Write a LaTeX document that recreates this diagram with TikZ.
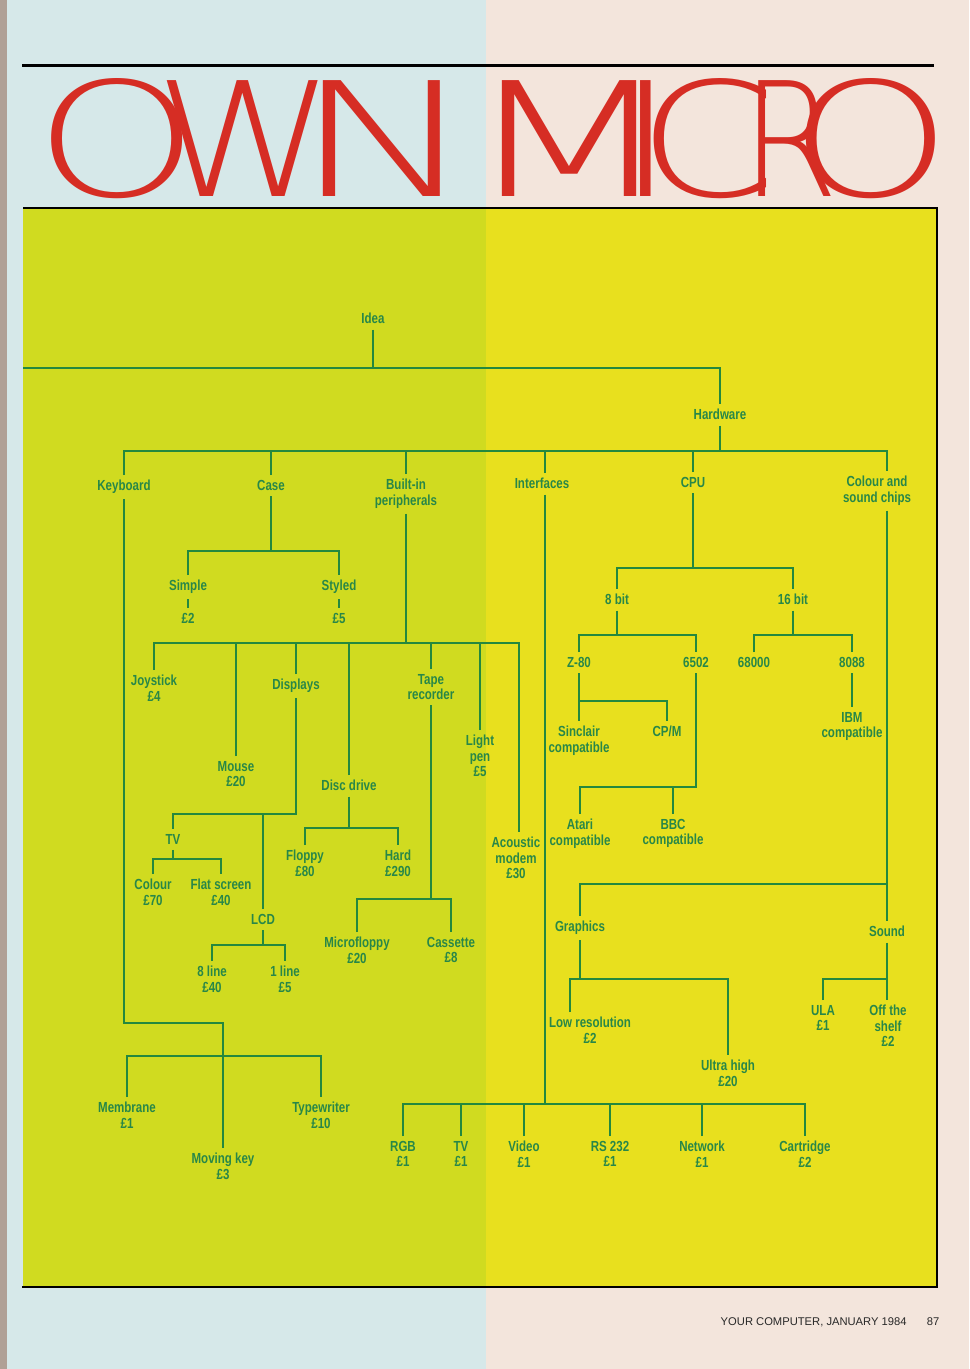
\documentclass[tikz,border=0pt]{standalone}
\usepackage{fontspec}
\usepackage{graphicx}
\newfontfamily\lblfont{Liberation Sans}[FakeStretch=0.79]
\newfontfamily\titlefont{DejaVuSans-ExtraLight.ttf}
\newfontfamily\footfont{Liberation Sans}
\newcommand\tlet[2]{\makebox[0pt]{\scalebox{#1}[1]{#2}}}
\definecolor{bgblue}{RGB}{214,232,233}
\definecolor{bgpink}{RGB}{243,229,220}
\definecolor{stripc}{RGB}{176,160,150}
\definecolor{ylime}{RGB}{208,219,32}
\definecolor{yyel}{RGB}{232,224,30}
\definecolor{tred}{RGB}{214,45,36}
\definecolor{lgreen}{RGB}{36,136,62}
\definecolor{tgreen}{RGB}{40,135,72}
\definecolor{footgray}{RGB}{40,40,40}
\tikzset{
  lbl/.style={font=\lblfont\bfseries\fontsize{7.3}{7.6}\selectfont, text=tgreen,
    align=center, inner sep=2.5pt, anchor=north, yshift=2.5pt},
  conn/.style={draw=lgreen, line width=1pt}
}
\begin{document}
\begin{tikzpicture}[x=0.5pt,y=-0.5pt]
\useasboundingbox (0,0) rectangle (969,1369);
% page background
\fill[bgblue] (0,0) rectangle (486,1369);
\fill[bgpink] (486,0) rectangle (969,1369);
\fill[stripc] (0,0) rectangle (7,1369);
% panel
\fill[ylime] (23,208) rectangle (486,1287);
\fill[yyel] (486,208) rectangle (937,1287);
\draw[black, line width=1.5pt] (22,66) -- (934,66);
\draw[black, line width=0.8pt] (23,208) -- (937,208) -- (937,1287);
\draw[black, line width=1.2pt] (22,1287) -- (938,1287);
% title (letters centred at fixed positions)
\node[anchor=base west, inner sep=0, text=tred] (title) at (0,197)
  {\titlefont\fontsize{79.5}{80}\selectfont\kern58.25pt\tlet{1.32}{O}\kern64pt\tlet{1.15}{W}\kern70.5pt\tlet{1.55}{N}\kern\dimexpr92pt-\fontdimen2\font\relax\space\tlet{1.56}{M}\kern38.25pt\tlet{1.3}{I}\kern30.75pt\tlet{1.26}{C}\kern41.1pt\tlet{0.88}{R}\kern40.4pt\tlet{1.30}{O}};
% root
\node[lbl] (idea) at (373,313) {Idea};
\node[lbl] (hw) at (720,409) {Hardware};
\coordinate (L0) at (23,368);
\coordinate (J0) at (373,368);
\coordinate (J1) at (720,368);
\draw[conn] (idea.south) -- (J0);
\draw[conn] (L0) -- (J1) -- (hw.north);
% level 1
\node[lbl] (kb) at (124,480) {Keyboard};
\node[lbl] (case) at (271,480) {Case};
\node[lbl] (bip) at (406,479) {Built-in\\peripherals};
\node[lbl] (intf) at (542,478) {Interfaces};
\node[lbl] (cpu) at (693,477) {CPU};
\node[lbl] (cs) at (877,476) {Colour and\\sound chips};
\coordinate (csx) at (887,0);
\coordinate (ifx) at (545,0);
\coordinate (hb) at (720,451);
\draw[conn] (hw.south) -- (hb);
\draw[conn] (kb.north) |- (hb) -| (cs.north -| csx);
\foreach \n in {case,bip,cpu} \draw[conn] (\n.north) -- (\n.north |- hb);
\draw[conn] (intf.north -| ifx) -- (ifx |- hb);
% keyboard
\node[lbl] (moving) at (223,1153) {Moving key\\£3};
\node[lbl] (memb) at (127,1102) {Membrane\\£1};
\node[lbl] (typew) at (321,1102) {Typewriter\\£10};
\coordinate (kj) at (124,1023);
\coordinate (kbb) at (223,1056);
\draw[conn] (kb.south) -- (kj) -| (moving.north);
\draw[conn] (memb.north) |- (kbb) -| (typew.north);
% case
\node[lbl] (simple) at (188,580) {Simple};
\node[lbl] (p2) at (188,613) {£2};
\node[lbl] (styled) at (339,580) {Styled};
\node[lbl] (p5) at (339,613) {£5};
\coordinate (cb) at (271,551);
\draw[conn] (case.south) -- (cb);
\draw[conn] (simple.north) |- (cb) -| (styled.north);
\draw[conn] (simple.south) -- (p2.north);
\draw[conn] (styled.south) -- (p5.north);
% built-in peripherals
\node[lbl] (joy) at (154,675) {Joystick\\£4};
\node[lbl] (mouse) at (236,761) {Mouse\\£20};
\node[lbl] (disp) at (296,679) {Displays};
\node[lbl] (disc) at (349,780) {Disc drive};
\node[lbl] (tape) at (431,674) {Tape\\recorder};
\node[lbl] (light) at (480,735) {Light\\pen\\£5};
\node[lbl] (acou) at (516,837) {Acoustic\\modem\\£30};
\coordinate (acx) at (519,0);
\coordinate (bb) at (406,643);
\draw[conn] (bip.south) -- (bb);
\draw[conn] (joy.north) |- (bb) -| (acou.north -| acx);
\foreach \n in {mouse,disp,disc,tape,light} \draw[conn] (\n.north) -- (\n.north |- bb);
% displays
\node[lbl] (tv) at (173,834) {TV};
\node[lbl] (lcd) at (263,914) {LCD};
\coordinate (db) at (296,814);
\draw[conn] (disp.south) -- (db) -| (tv.north);
\draw[conn] (lcd.north) -- (lcd.north |- db);
\node[lbl] (colour) at (153,879) {Colour\\£70};
\node[lbl] (flat) at (221,879) {Flat screen\\£40};
\coordinate (tb) at (173,859);
\draw[conn] (tv.south) -- (tb);
\draw[conn] (colour.north) |- (tb) -| (flat.north);
\node[lbl] (l8) at (212,966) {8 line\\£40};
\node[lbl] (l1) at (285,966) {1 line\\£5};
\coordinate (lb) at (263,945);
\draw[conn] (lcd.south) -- (lb);
\draw[conn] (l8.north) |- (lb) -| (l1.north);
% disc drive
\node[lbl] (floppy) at (305,850) {Floppy\\£80};
\node[lbl] (hard) at (398,850) {Hard\\£290};
\coordinate (ddb) at (349,828);
\draw[conn] (disc.south) -- (ddb);
\draw[conn] (floppy.north) |- (ddb) -| (hard.north);
% tape recorder
\node[lbl] (micro) at (357,937) {Microfloppy\\£20};
\node[lbl] (cass) at (451,937) {Cassette\\£8};
\coordinate (tpb) at (431,899);
\draw[conn] (tape.south) -- (tpb);
\draw[conn] (micro.north) |- (tpb) -| (cass.north);
% interfaces
\node[lbl] (rgb) at (403,1141) {RGB\\£1};
\node[lbl] (tvi) at (461,1141) {TV\\£1};
\node[lbl] (video) at (524,1141) {Video\\£1};
\node[lbl] (rs) at (610,1141) {RS 232\\£1};
\node[lbl] (net) at (702,1141) {Network\\£1};
\node[lbl] (cart) at (805,1141) {Cartridge\\£2};
\coordinate (ib) at (545,1104);
\draw[conn] (intf.south -| ifx) -- (ib);
\draw[conn] (rgb.north) |- (ib) -| (cart.north);
\foreach \n in {tvi,video,rs,net} \draw[conn] (\n.north) -- (\n.north |- ib);
% CPU
\node[lbl] (b8) at (617,594) {8 bit};
\node[lbl] (b16) at (793,594) {16 bit};
\coordinate (pb) at (693,568);
\draw[conn] (cpu.south) -- (pb);
\draw[conn] (b8.north) |- (pb) -| (b16.north);
\node[lbl] (z80) at (579,657) {Z-80};
\node[lbl] (m6502) at (696,657) {6502};
\coordinate (b8b) at (617,635);
\draw[conn] (b8.south) -- (b8b);
\draw[conn] (z80.north) |- (b8b) -| (m6502.north);
\node[lbl] (sinclair) at (579,726) {Sinclair\\compatible};
\node[lbl] (cpm) at (667,726) {CP/M};
\coordinate (zb) at (579,701);
\draw[conn] (z80.south) -- (sinclair.north);
\draw[conn] (zb) -| (cpm.north);
\node[lbl] (atari) at (580,819) {Atari\\compatible};
\node[lbl] (bbc) at (673,819) {BBC\\compatible};
\coordinate (sb) at (696,787);
\draw[conn] (m6502.south) -- (sb) -| (atari.north);
\draw[conn] (bbc.north) -- (bbc.north |- sb);
\node[lbl] (m68k) at (754,657) {68000};
\node[lbl] (m8088) at (852,657) {8088};
\coordinate (b16b) at (793,635);
\draw[conn] (b16.south) -- (b16b);
\draw[conn] (m68k.north) |- (b16b) -| (m8088.north);
\node[lbl] (ibm) at (852,712) {IBM\\compatible};
\draw[conn] (m8088.south) -- (ibm.north);
% colour and sound chips
\node[lbl] (graphics) at (580,921) {Graphics};
\node[lbl] (sound) at (887,926) {Sound};
\coordinate (gsb) at (887,884);
\draw[conn] (cs.south -| csx) -- (sound.north);
\draw[conn] (graphics.north) |- (gsb);
\node[lbl] (lowres) at (590,1017) {Low resolution\\£2};
\node[lbl] (ultra) at (728,1060) {Ultra high\\£20};
\coordinate (gb) at (580,979);
\coordinate (lrx) at (570,0);
\draw[conn] (graphics.south) -- (gb);
\draw[conn] (lowres.north -| lrx) |- (gb) -| (ultra.north);
\node[lbl] (ula) at (823,1005) {ULA\\£1};
\node[lbl] (offs) at (888,1005) {Off the\\shelf\\£2};
\coordinate (sdb) at (887,979);
\draw[conn] (sound.south) -- (sdb) -- (offs.north -| sdb);
\draw[conn] (ula.north) |- (sdb);
% footer
\node[anchor=base east, inner sep=0, text=footgray, font=\footfont\fontsize{5.6}{6}\selectfont] (foot) at (907,1325) {YOUR COMPUTER, JANUARY 1984};
\node[anchor=base, inner sep=0, text=footgray, font=\footfont\fontsize{5.6}{6}\selectfont] (pg) at (933,1325) {87};
\end{tikzpicture}
\end{document}
